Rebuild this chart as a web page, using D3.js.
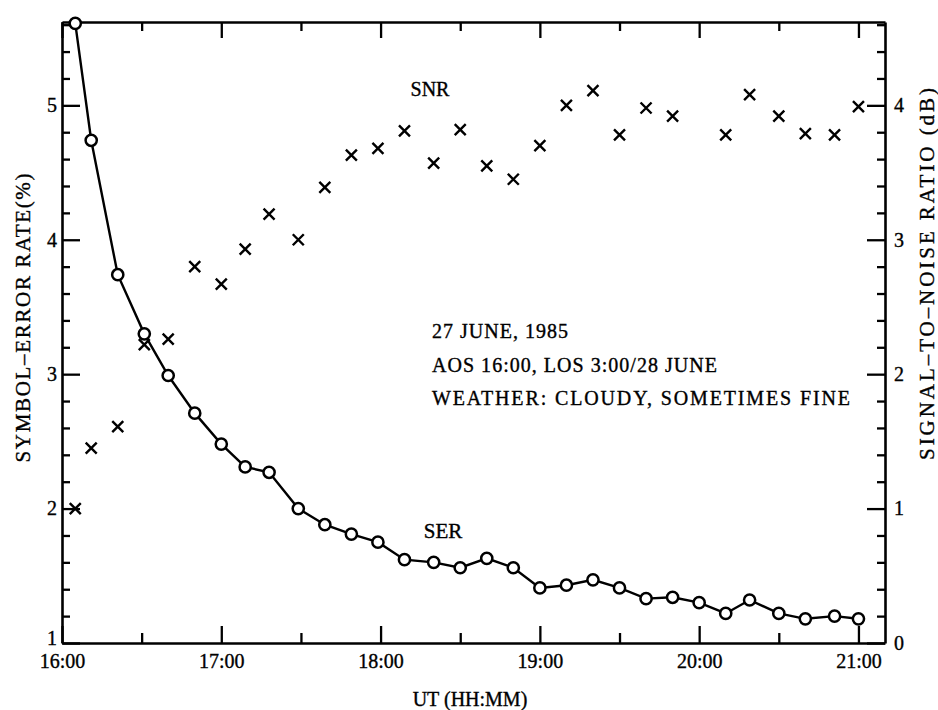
<!DOCTYPE html>
<html>
<head>
<meta charset="utf-8">
<script src="https://cdn.jsdelivr.net/npm/d3@7"></script>
<style>
  body { margin: 0; background: #fff; }
  svg { display: block; }
  text { font-family: "Liberation Serif", "DejaVu Serif", serif; fill: #000; stroke: #000; stroke-width: 0.35px; }
</style>
</head>
<body>
<div id="chart"></div>
<script>
// sample times (UT, 27 June 1985)
var times = ["16:05", "16:11", "16:21", "16:31", "16:40", "16:50", "17:00", "17:09", "17:18", "17:29",
  "17:39", "17:49", "17:59", "18:09", "18:20", "18:30", "18:40", "18:50", "19:00", "19:10",
  "19:20", "19:30", "19:40", "19:50", "20:00", "20:10", "20:19", "20:30", "20:40", "20:51", "21:00"];

// symbol error rate (%) - left axis
var serValues = [5.61, 4.74, 3.74, 3.30, 2.99, 2.71, 2.48, 2.31, 2.27, 2.00,
  1.88, 1.81, 1.75, 1.62, 1.60, 1.56, 1.63, 1.56, 1.41, 1.43,
  1.47, 1.41, 1.33, 1.34, 1.30, 1.22, 1.32, 1.22, 1.18, 1.20, 1.18];

// signal-to-noise ratio (dB) - right axis, no point at 20:00
var snrValues = [1.00, 1.45, 1.61, 2.22, 2.26, 2.80, 2.67, 2.93, 3.19, 3.00,
  3.39, 3.63, 3.68, 3.81, 3.57, 3.82, 3.55, 3.45, 3.70, 4.00,
  4.11, 3.78, 3.98, 3.92, null, 3.78, 4.08, 3.92, 3.79, 3.78, 3.99];

var hourTicks = ["16:00", "17:00", "18:00", "19:00", "20:00", "21:00"];
var halfTicks = ["16:30", "17:30", "18:30", "19:30", "20:30"];
var serTicks = [1, 2, 3, 4, 5];
var snrTicks = [0, 1, 2, 3, 4];

var infoLines = ["27 JUNE, 1985", "AOS 16:00, LOS 3:00/28 JUNE", "WEATHER: CLOUDY, SOMETIMES FINE"];

var W = 938, H = 710;
var mLeft = 62, mRight = 885, mTop = 22, mBottom = 643;

var parseT = d3.timeParse("%H:%M");

var svg = d3.select("#chart").append("svg")
  .attr("width", W)
  .attr("height", H);

var x = d3.scaleTime()
  .domain([parseT("16:00"), parseT("21:10")])
  .range([mLeft, mRight]);

var ySer = d3.scaleLinear()
  .domain([1, 5.62])
  .range([mBottom, mTop]);

var ySnr = d3.scaleLinear()
  .domain([0, 4.62])
  .range([mBottom, mTop]);

// minor tick values every 0.2
var serMinor = d3.range(1, 5.61, 0.2).map(function (v) { return +v.toFixed(1); })
  .filter(function (v) { return serTicks.indexOf(v) < 0; });
var snrMinor = d3.range(0, 4.61, 0.2).map(function (v) { return +v.toFixed(1); })
  .filter(function (v) { return snrTicks.indexOf(v) < 0; });

function styleAxis(g) {
  g.selectAll("path.domain").attr("stroke", "#000").attr("stroke-width", 2.6);
  g.selectAll(".tick line").attr("stroke", "#000").attr("stroke-width", 2.3);
  g.selectAll(".tick text").style("font-family", "Liberation Serif").style("font-size", "20px").attr("fill", "#000");
}

//bottom axis
var gx = svg.append("g")
  .attr("transform", "translate(0," + mBottom + ")")
  .call(d3.axisBottom(x).tickValues(hourTicks.map(parseT)).tickFormat(d3.timeFormat("%H:%M"))
    .tickSizeInner(-17).tickSizeOuter(0).tickPadding(8));
styleAxis(gx);
gx.selectAll(".tick text").attr("dy", "0.85em");
var gxm = svg.append("g")
  .attr("transform", "translate(0," + mBottom + ")")
  .call(d3.axisBottom(x).tickValues(halfTicks.map(parseT)).tickFormat("").tickSizeInner(-10).tickSizeOuter(0));
styleAxis(gxm);
gxm.select("path.domain").remove();

//top axis
var gt = svg.append("g")
  .attr("transform", "translate(0," + mTop + ")")
  .call(d3.axisTop(x).tickValues(hourTicks.map(parseT)).tickFormat("").tickSizeInner(-16).tickSizeOuter(0));
styleAxis(gt);
var gtm = svg.append("g")
  .attr("transform", "translate(0," + mTop + ")")
  .call(d3.axisTop(x).tickValues(halfTicks.map(parseT)).tickFormat("").tickSizeInner(-9).tickSizeOuter(0));
styleAxis(gtm);
gtm.select("path.domain").remove();

//left axis
var gl = svg.append("g")
  .attr("transform", "translate(" + mLeft + ",0)")
  .call(d3.axisLeft(ySer).tickValues(serTicks).tickFormat(d3.format("d"))
    .tickSizeInner(-18).tickSizeOuter(0).tickPadding(5));
styleAxis(gl);
// keep the "1" clear of the 16:00 label
gl.selectAll(".tick text").filter(function (d) { return d === 1; }).attr("dy", "0.05em");
var glm = svg.append("g")
  .attr("transform", "translate(" + mLeft + ",0)")
  .call(d3.axisLeft(ySer).tickValues(serMinor).tickFormat("").tickSizeInner(-8).tickSizeOuter(0));
styleAxis(glm);
glm.select("path.domain").remove();

//right axis
var gr = svg.append("g")
  .attr("transform", "translate(" + mRight + ",0)")
  .call(d3.axisRight(ySnr).tickValues(snrTicks).tickFormat(d3.format("d"))
    .tickSizeInner(-18).tickSizeOuter(0).tickPadding(9));
styleAxis(gr);
var grm = svg.append("g")
  .attr("transform", "translate(" + mRight + ",0)")
  .call(d3.axisRight(ySnr).tickValues(snrMinor).tickFormat("").tickSizeInner(-8).tickSizeOuter(0));
styleAxis(grm);
grm.select("path.domain").remove();

// SER line + open circles
var serData = times.map(function (t, i) { return { t: parseT(t), v: serValues[i] }; });

var line = d3.line()
  .x(function (d) { return x(d.t); })
  .y(function (d) { return ySer(d.v); });

svg.append("path")
  .datum(serData)
  .attr("d", line)
  .attr("fill", "none")
  .attr("stroke", "#000")
  .attr("stroke-width", 2.4);

svg.selectAll(".ser")
  .data(serData)
  .enter()
  .append("circle")
  .attr("class", "ser")
  .attr("cx", function (d) { return x(d.t); })
  .attr("cy", function (d) { return ySer(d.v); })
  .attr("r", 5.6)
  .attr("fill", "#fff")
  .attr("stroke", "#000")
  .attr("stroke-width", 2.5);

// SNR crosses
var snrData = times.map(function (t, i) { return { t: parseT(t), v: snrValues[i] }; })
  .filter(function (d) { return d.v != null; });

svg.selectAll(".snr")
  .data(snrData)
  .enter()
  .append("path")
  .attr("class", "snr")
  .attr("transform", function (d) { return "translate(" + x(d.t) + "," + ySnr(d.v) + ")"; })
  .attr("d", "M-5.5,-5.5L5.5,5.5M-5.5,5.5L5.5,-5.5")
  .attr("fill", "none")
  .attr("stroke", "#000")
  .attr("stroke-width", 2.4);

// labels
svg.append("text")
  .attr("x", 430).attr("y", 96)
  .attr("text-anchor", "middle")
  .style("font-size", "20px")
  .text("SNR");

svg.append("text")
  .attr("x", 443).attr("y", 538)
  .attr("text-anchor", "middle")
  .style("font-size", "21px")
  .text("SER");

var infoWidths = [136, 285, 418];
svg.selectAll(".info")
  .data(infoLines)
  .enter()
  .append("text")
  .attr("class", "info")
  .attr("x", 432)
  .attr("y", function (d, i) { return 338 + i * 33.5; })
  .attr("textLength", function (d, i) { return infoWidths[i]; })
  .attr("lengthAdjust", "spacing")
  .style("font-size", "20px")
  .text(function (d) { return d; });

svg.append("text")
  .attr("x", 470).attr("y", 706)
  .attr("text-anchor", "middle")
  .style("font-size", "20px")
  .text("UT (HH:MM)");

svg.append("text")
  .attr("transform", "translate(30,318) rotate(-90)")
  .attr("text-anchor", "middle")
  .attr("textLength", 289)
  .attr("lengthAdjust", "spacing")
  .style("font-size", "21px")
  .text("SYMBOL\u2013ERROR RATE(%)");

svg.append("text")
  .attr("transform", "translate(934,274) rotate(-90)")
  .attr("text-anchor", "middle")
  .attr("textLength", 372)
  .attr("lengthAdjust", "spacing")
  .style("font-size", "21px")
  .text("SIGNAL\u2013TO\u2013NOISE RATIO (dB)");
</script>
</body>
</html>
